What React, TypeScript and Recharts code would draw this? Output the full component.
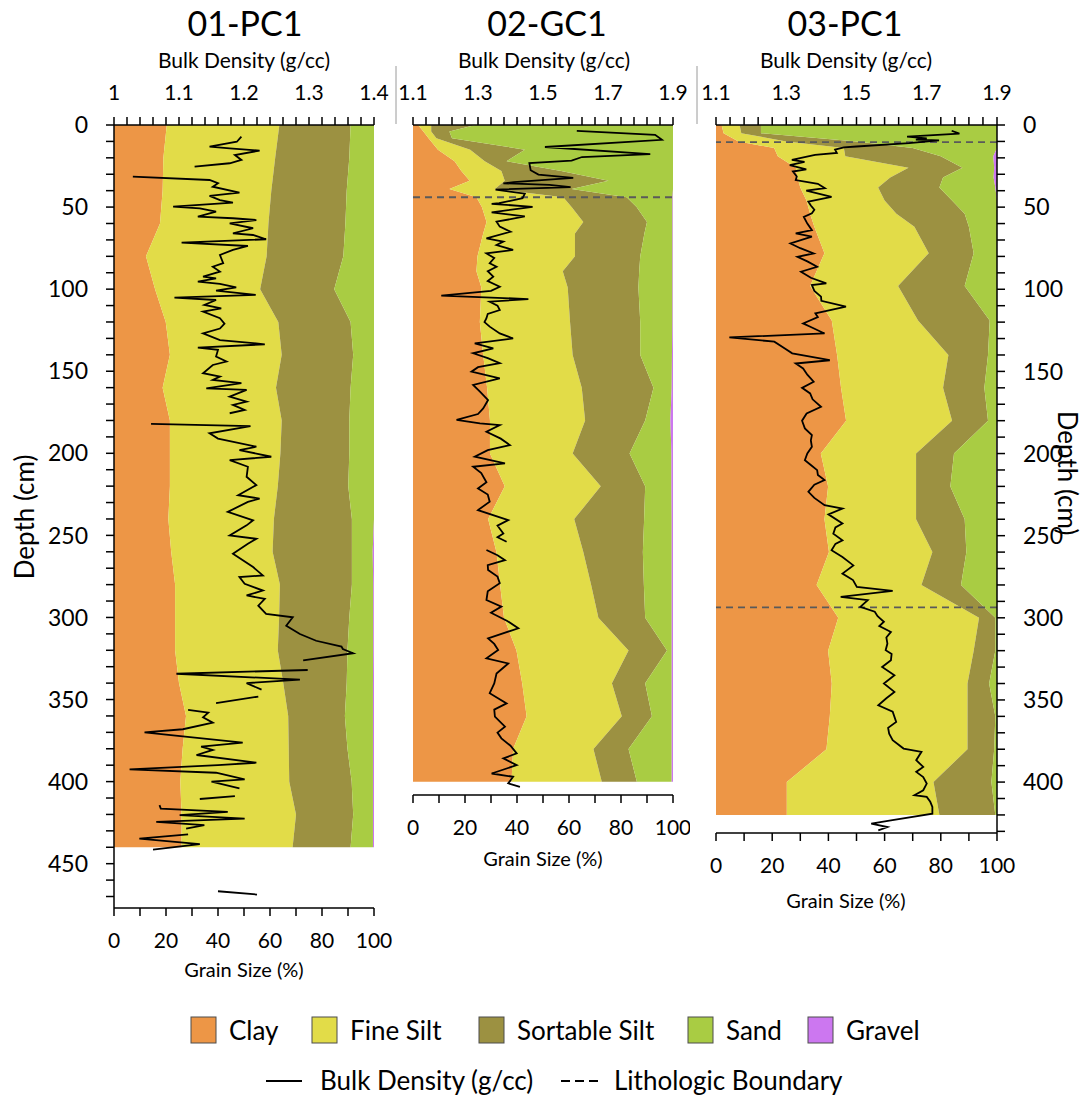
import React from 'react';
import { ComposedChart, Area, Line, XAxis, YAxis, ReferenceLine } from 'recharts';

// grain size layers, percent of each fraction at each sampled depth (cm)
const PC1_DEPTH = [0, 20, 40, 60, 80, 100, 120, 140, 160, 180, 200, 220, 240, 260, 280, 300, 320, 340, 360, 380, 400, 420, 440];
const PC1_CLAY = [20.3, 19, 18.7, 17.7, 12.3, 15.8, 19.9, 21.5, 18.7, 21.5, 21.5, 21.5, 20.9, 22, 23.5, 23.5, 23.5, 25, 27.7, 26.4, 25.5, 26, 26];
const PC1_FINE_SILT = [43.3, 43, 41.8, 41.7, 46.4, 40.4, 43.3, 43, 43.6, 43, 42.5, 41.5, 40.6, 39, 40.3, 40, 39.5, 40.1, 39.3, 40.8, 41.9, 44, 42.7];
const PC1_SORTABLE_SILT = [27.4, 28.5, 29, 29.6, 29.5, 28.5, 27.8, 27.5, 28.7, 26, 26.5, 27.1, 30, 30.5, 27.7, 27, 26.8, 24.4, 21.8, 22.6, 24, 22, 22.3];
const PC1_SAND = [9, 9.5, 10.5, 11, 11.8, 15.3, 9, 8, 9, 9.5, 9.5, 9.9, 8.5, 8, 8.2, 9.2, 9.9, 10.1, 10.8, 9.8, 8.2, 7.6, 8.6];
const PC1_GRAVEL = [0, 0, 0, 0, 0, 0, 0, 0, 0, 0, 0, 0, 0, 0.5, 0.3, 0.3, 0.3, 0.4, 0.4, 0.4, 0.4, 0.4, 0.4];

const GC1_DEPTH = [0, 4, 8, 15, 22, 28, 34, 39, 44, 50, 59, 66, 80, 89, 99, 120, 140, 160, 180, 200, 220, 240, 260, 280, 300, 320, 340, 360, 380, 400];
const GC1_CLAY = [2, 4, 6, 9.6, 16, 18.6, 21.8, 14, 24.4, 26.5, 28.3, 27, 24.8, 24.4, 26.3, 25.7, 27, 28.5, 29.6, 29.6, 35.3, 28.9, 32.1, 33.5, 35, 39.8, 42, 43.7, 38.5, 37.9];
const GC1_FINE_SILT = [5, 3, 3, 12.4, 11.6, 15.4, 13.5, 17.5, 33.4, 34.5, 37.2, 35.3, 37.5, 33.2, 33.2, 34.7, 34.4, 36.4, 36.6, 31.8, 36.9, 33.1, 33.4, 35, 36.3, 43.1, 34.5, 36.6, 30.9, 34.7];
const GC1_SORTABLE_SILT = [17, 7, 6, 21, 8.4, 23, 39.9, 29.5, 24.4, 25, 24.5, 26.7, 25.1, 29.4, 27.2, 27, 26, 27.6, 23.1, 21.9, 17.1, 26.9, 22.9, 20.3, 18, 14.8, 12.8, 11.6, 13.5, 13.5];
const GC1_SAND = [76, 86, 85, 57, 64, 43, 24.8, 39, 17.6, 13.8, 9.8, 10.8, 12.4, 12.8, 13.1, 12.4, 12.2, 7, 9.7, 16.1, 10.1, 10.6, 11.1, 10.7, 10.2, 1.8, 10.2, 7.6, 16.6, 13.4];
const GC1_GRAVEL = [0, 0, 0, 0, 0, 0, 0, 0, 0.2, 0.2, 0.2, 0.2, 0.2, 0.2, 0.2, 0.2, 0.4, 0.5, 1, 0.6, 0.6, 0.5, 0.5, 0.5, 0.5, 0.5, 0.5, 0.5, 0.5, 0.5];

const PC3_DEPTH = [0, 5, 10, 14, 19, 26, 32, 38, 46, 54, 62, 78, 98, 119, 140, 160, 180, 200, 220, 240, 260, 280, 300, 320, 340, 360, 380, 400, 420];
const PC3_CLAY = [2, 2.7, 8, 20.7, 22, 28.4, 29, 30, 32.2, 33.5, 35, 38.6, 33.5, 41.2, 43.1, 44.5, 46.3, 37.3, 39.9, 38.6, 40.2, 35.8, 43.5, 39.9, 41.2, 40.5, 39.3, 25.2, 25.2];
const PC3_FINE_SILT = [6.4, 6.3, 17, 24.8, 24, 40.1, 33, 27.7, 27.8, 30.7, 35.6, 37.1, 31.3, 30.7, 39.6, 36.3, 37.7, 33.9, 31.3, 32.6, 36.8, 37.3, 50.1, 51.8, 48.3, 49, 50.2, 52.2, 54.3];
const PC3_SORTABLE_SILT = [7.6, 7, 25, 24.5, 34, 19.2, 18.8, 21.8, 24, 24.3, 19.4, 16, 23.7, 25.5, 14.1, 14.7, 12.8, 13.5, 12.2, 17.3, 12.1, 14.1, 5.8, 7.7, 7.7, 9.9, 9.5, 20.6, 19.9];
const PC3_SAND = [84, 84, 50, 30, 18.7, 11.3, 18, 19.9, 16, 11.5, 10, 8.3, 11.5, 2.6, 3.2, 4.5, 3.2, 15.1, 16.4, 11.5, 10.9, 12.8, 0.6, 0.6, 2.8, 0.6, 1, 2, 0.6];
const PC3_GRAVEL = [0, 0, 0, 0, 1.3, 1, 1.2, 0.6, 0, 0, 0, 0, 0, 0, 0, 0, 0, 0.2, 0.2, 0, 0, 0, 0, 0, 0, 0, 0, 0, 0];

// bulk density (g/cc) by depth; null = no measurement (gap in line)
const PC1_BD: [number, number | null][] = [
  [7.1, 1.196], [10.2, 1.189], [13.2, 1.147], [14.2, 1.178], [15.6, 1.224], [18.3, 1.186], [21.3, 1.196], [23.3, 1.178], [25.4, 1.124], [28, null],
  [31.5, 1.029], [33.5, 1.147], [35.5, 1.16], [37.6, 1.152], [41.2, 1.193], [43.2, 1.147], [45.7, 1.163], [47.3, 1.183], [49.7, 1.091], [50.8, 1.132],
  [52.8, 1.157], [55.8, 1.129], [56.8, 1.183], [57.9, 1.219], [59.9, 1.178], [62.9, 1.214], [66, 1.183], [67, 1.214], [69.6, 1.234], [71.7, 1.104],
  [73.7, 1.206], [76.1, 1.183], [79.2, 1.163], [84.2, 1.168], [86.3, 1.152], [89.3, 1.163], [92.4, 1.137], [93.4, 1.157], [95.4, 1.129], [96.8, 1.163],
  [98.9, 1.188], [100.9, 1.157], [103.5, 1.218], [105.2, 1.093], [106.6, 1.157], [109.6, 1.139], [111.7, 1.165], [113.7, 1.137], [117.7, 1.163], [121, 1.17],
  [124, 1.163], [126.9, 1.137], [131, 1.163], [133.6, 1.232], [135.6, 1.129], [137, 1.16], [141.1, 1.157], [144.1, 1.173], [146.2, 1.152], [151.2, 1.137],
  [153.3, 1.163], [155.3, 1.152], [157.3, 1.196], [160.4, 1.142], [161.4, 1.204], [165.5, 1.178], [168.5, 1.204], [170.5, 1.183], [173.6, 1.201], [175.6, 1.178],
  [179, null], [182.1, 1.057], [183.5, 1.21], [187.8, 1.147], [191, 1.16], [196, 1.219], [198, 1.193], [202.1, 1.242], [204.2, 1.178], [208.2, 1.206],
  [214.3, 1.204], [219.4, 1.219], [225.5, 1.191], [227.6, 1.224], [229.6, 1.206], [235.7, 1.175], [240.8, 1.214], [243.9, 1.204], [250, 1.178], [252.1, 1.219],
  [255.1, 1.206], [261.2, 1.183], [269.3, 1.214], [274.4, 1.229], [275.4, 1.193], [279.5, 1.201], [283.6, 1.229], [286.6, 1.204], [288.7, 1.232], [292.8, 1.222],
  [297.8, 1.234], [299.9, 1.275], [305, 1.265], [310.1, 1.286], [314.2, 1.311], [317.7, 1.35], [319.2, 1.352], [321.8, 1.368], [326.2, 1.291], [329, null],
  [332, 1.298], [334.3, 1.096], [337.9, 1.286], [340, 1.204], [344, 1.227], [346, null], [348.2, 1.222], [352.2, 1.157], [354, null],
  [356.3, 1.114], [358, 1.145], [360.8, 1.137], [364.1, 1.152], [368.1, 1.106], [370, 1.047], [376.3, 1.198], [378.7, 1.134], [380.7, 1.152], [383.8, 1.127],
  [388.5, 1.219], [389.9, 1.16], [392.5, 1.024], [394.6, 1.157], [398.6, 1.201], [400, 1.15], [404.1, 1.193], [406, null], [408.8, 1.186], [410.6, 1.132], [412, null],
  [414.3, 1.07], [416.4, 1.072], [418.4, 1.175], [420.4, 1.101], [422.5, 1.201], [424.5, 1.065], [426.5, 1.139], [428.6, 1.111], [430, null],
  [432.2, 1.114], [434.7, 1.039], [438.1, 1.132], [441.4, 1.06], [450, null], [466.8, 1.16], [468.8, 1.22],
];

const GC1_BD: [number, number | null][] = [
  [3.6, 1.604], [6, 1.845], [9, 1.866], [13.4, 1.506], [17.7, 1.83], [19.5, 1.62], [21.7, 1.588], [23.2, 1.458], [27.5, 1.462], [30.2, 1.486],
  [32.2, 1.593], [34.8, 1.41], [35.5, 1.378], [36.5, 1.52], [37.8, 1.585], [39.3, 1.354], [41.8, 1.444], [44.6, 1.437], [47.6, 1.365], [48, 1.342],
  [49.8, 1.468], [53.2, 1.342], [55.7, 1.444], [58.9, 1.357], [61.9, 1.367], [65, 1.4], [69, 1.326], [71, 1.378], [73.1, 1.357], [76.1, 1.408],
  [78.2, 1.326], [81, 1.35], [84.2, 1.336], [86.3, 1.357], [89, 1.33], [92.4, 1.347], [95, 1.33], [98.5, 1.367], [101, 1.34], [103.9, 1.187],
  [106, 1.455], [107.6, 1.336], [110, 1.36], [112.7, 1.367], [115, 1.33], [117.7, 1.326], [120, 1.32], [122.8, 1.336], [126.9, 1.367], [130, 1.408],
  [133, 1.29], [136, 1.347], [139, 1.285], [142, 1.33], [145, 1.367], [147.5, 1.3], [150.2, 1.28], [154.3, 1.367], [158.3, 1.285], [162.4, 1.306],
  [167.5, 1.331], [172.6, 1.316], [176, 1.3], [179.6, 1.234], [181.7, 1.306], [182.7, 1.367], [186.8, 1.326], [191, 1.37], [194.9, 1.398], [198, 1.33],
  [202, 1.29], [206, 1.383], [208.1, 1.285], [212, 1.31], [217.6, 1.326], [221.3, 1.3], [225, 1.33], [229.4, 1.336], [234.5, 1.3], [240.6, 1.393],
  [244, 1.36], [248.8, 1.378], [251, 1.36], [253.8, 1.388], [256, null], [258.8, 1.326], [262, 1.36], [265, 1.383], [268, 1.33], [271, 1.331],
  [275, 1.36], [279, 1.367], [284, 1.33], [289.3, 1.326], [293.3, 1.372], [297, 1.34], [302, 1.39], [306.5, 1.424], [312.6, 1.331], [316, 1.35],
  [319.7, 1.362], [324.8, 1.326], [327.9, 1.393], [334, 1.357], [340, 1.35], [346, 1.336], [352.2, 1.388], [356, 1.35], [360.3, 1.352], [366.4, 1.383],
  [370, 1.36], [373.5, 1.372], [378, 1.4], [382.7, 1.419], [385.7, 1.378], [389.8, 1.419], [394.9, 1.342], [396.9, 1.408], [400.9, 1.393], [403, 1.429],
];

const PC3_BD: [number, number | null][] = [
  [3.5, 1.771], [5.2, 1.793], [7.1, 1.644], [8.2, 1.7], [8.9, 1.669], [9.4, 1.735], [11, 1.65], [13.1, 1.5], [13.6, 1.464], [15, 1.439],
  [17, 1.444], [18.2, 1.382], [21.2, 1.316], [22.5, 1.352], [24.5, 1.31], [27, 1.357], [28.3, 1.319], [31.3, 1.33], [33.5, 1.327], [35.8, 1.39],
  [38.5, 1.41], [40, 1.357], [43.8, 1.429], [46.7, 1.363], [49, 1.37], [51.6, 1.38], [53.8, 1.373], [56, 1.35], [60, 1.36], [64, 1.373],
  [66, 1.327], [68, 1.373], [72.1, 1.312], [75, 1.34], [78.2, 1.378], [80.2, 1.332], [83, 1.36], [86.3, 1.388], [89.3, 1.342], [93, 1.37],
  [96.4, 1.414], [97.4, 1.373], [101, 1.38], [104.5, 1.399], [107, 1.4], [110.6, 1.47], [114.7, 1.383], [117, 1.39], [120.8, 1.348], [123, 1.37],
  [126.9, 1.409], [129.3, 1.138], [131.9, 1.266], [136, 1.296], [139, 1.317], [143.2, 1.424], [145.2, 1.327], [148.2, 1.348], [152, 1.36], [156.3, 1.378],
  [160, 1.345], [163.4, 1.368], [167, 1.375], [171.5, 1.399], [175.6, 1.358], [180, 1.345], [184.7, 1.353], [188.8, 1.373], [192, 1.37], [195.9, 1.373],
  [200, 1.36], [204, 1.353], [207, 1.37], [210.1, 1.388], [213, 1.39], [216.2, 1.409], [219, 1.38], [223.3, 1.363], [227, 1.38], [231.4, 1.409],
  [233.5, 1.46], [237, 1.42], [242.6, 1.46], [245, 1.44], [248.8, 1.434], [252.8, 1.46], [255, 1.44], [258.9, 1.429], [263, 1.46], [268.1, 1.491],
  [273.1, 1.46], [277, 1.49], [281.2, 1.501], [283.6, 1.603], [287.3, 1.455], [289.3, 1.532], [293.3, 1.511], [296.3, 1.552], [299, 1.56], [302.4, 1.578],
  [305, 1.565], [308.6, 1.598], [312, 1.585], [315.7, 1.588], [319.7, 1.583], [322, 1.6], [325.8, 1.598], [329.9, 1.573], [335, 1.608], [340, 1.578],
  [345.1, 1.608], [349, 1.585], [353.2, 1.562], [357.2, 1.603], [363.4, 1.613], [367, 1.59], [370.5, 1.593], [374.5, 1.603], [379.6, 1.634], [381.6, 1.685],
  [386.7, 1.67], [390.8, 1.69], [393.8, 1.67], [397, 1.69], [400.9, 1.7], [405, 1.69], [408, 1.665], [409, 1.7], [412, 1.71], [415.1, 1.716],
  [419.2, 1.716], [423.3, 1.598], [425.3, 1.542], [427.4, 1.588], [429.4, 1.562],
];

// lithologic boundaries (cm)
const GC1_BOUNDARIES = [44];
const PC3_BOUNDARIES = [10.4, 293.7];

const GRAIN_TICKS = [0, 10, 20, 30, 40, 50, 60, 70, 80, 90, 100];
const GRAIN_LABELS = [0, 20, 40, 60, 80, 100];
const PC1_BD_LABELS = [1, 1.1, 1.2, 1.3, 1.4];
const BD_LABELS = [1.1, 1.3, 1.5, 1.7, 1.9];

const COLORS = {
  clay: '#ED9646',
  fineSilt: '#E2DC48',
  sortableSilt: '#9C9141',
  sand: '#A9CC43',
  gravel: '#CC77F0',
};

const FONT = 'Lato, "Open Sans", sans-serif';

const makeRows = (depth: number[], clay: number[], fineSilt: number[], sortableSilt: number[], sand: number[], gravel: number[]) =>
  depth.map((d, i) => ({ depth: d, clay: clay[i], fineSilt: fineSilt[i], sortableSilt: sortableSilt[i], sand: sand[i], gravel: gravel[i] }));

// break the bulk density record into continuous runs at the missing values
const splitRuns = (bd: [number, number | null][]) => {
  const runs: { depth: number; bd: number }[][] = [];
  let cur: { depth: number; bd: number }[] = [];
  bd.forEach(([depth, v]) => {
    if (v == null) {
      if (cur.length) runs.push(cur);
      cur = [];
    } else {
      cur.push({ depth, bd: v });
    }
  });
  if (cur.length) runs.push(cur);
  return runs;
};

const steps = (start: number, end: number, step: number) => {
  const n = Math.round((end - start) / step);
  return Array.from({ length: n + 1 }, (_, i) => +(start + i * step).toFixed(3));
};

const hasLabel = (labels: number[], v: number) => labels.some((l) => Math.abs(l - v) < 1e-6);

const axisStroke = { stroke: '#000', strokeWidth: 1.5 };

interface PanelProps {
  left: number;
  width: number;
  height: number;
  margin: { top: number; right: number; bottom: number; left: number };
  rows: ReturnType<typeof makeRows>;
  bd: [number, number | null][];
  maxDepth: number;
  bdLabels: number[];
  bdStep: number;
  depthAxis: 'left' | 'right' | 'none';
  boundaries: number[];
}

const CorePanel: React.FC<PanelProps> = ({ left, width, height, margin, rows, bd, maxDepth, bdLabels, bdStep, depthAxis, boundaries }) => {
  const runs = splitRuns(bd);
  const bdMin = bdLabels[0];
  const bdMax = bdLabels[bdLabels.length - 1];
  return (
    <div style={{ position: 'absolute', left, top: 0 }}>
      <ComposedChart layout="vertical" width={width} height={height} data={rows} margin={margin}>
        <XAxis
          xAxisId="gs"
          type="number"
          orientation="bottom"
          domain={[0, 100]}
          ticks={GRAIN_TICKS}
          interval={0}
          tickFormatter={(v) => (hasLabel(GRAIN_LABELS, v) ? String(v) : '')}
          height={50}
          tickSize={8}
          tickMargin={17}
          axisLine={axisStroke}
          tickLine={axisStroke}
          tick={{ fontSize: 21, fill: '#000' }}
          allowDataOverflow
        />
        <XAxis
          xAxisId="bd"
          type="number"
          orientation="top"
          domain={[bdMin, bdMax]}
          ticks={steps(bdMin, bdMax, bdStep)}
          interval={0}
          tickFormatter={(v) => (hasLabel(bdLabels, v) ? String(v) : '')}
          height={40}
          tickSize={8}
          tickMargin={17}
          axisLine={axisStroke}
          tickLine={axisStroke}
          tick={{ fontSize: 21, fill: '#000' }}
          allowDataOverflow
        />
        <YAxis
          yAxisId="d"
          type="number"
          dataKey="depth"
          domain={[0, maxDepth]}
          ticks={steps(0, Math.floor(maxDepth / 10) * 10, 10)}
          interval={0}
          tickFormatter={(v) => (v % 50 === 0 ? String(v) : '')}
          orientation={depthAxis === 'right' ? 'right' : 'left'}
          hide={depthAxis === 'none'}
          width={60}
          tickSize={8}
          tickMargin={18}
          axisLine={axisStroke}
          tickLine={axisStroke}
          tick={{ fontSize: 23, fill: '#000' }}
          allowDataOverflow
        />
        <Area xAxisId="gs" yAxisId="d" dataKey="clay" stackId="g" type="linear" fill={COLORS.clay} fillOpacity={1} stroke="none" isAnimationActive={false} />
        <Area xAxisId="gs" yAxisId="d" dataKey="fineSilt" stackId="g" type="linear" fill={COLORS.fineSilt} fillOpacity={1} stroke="none" isAnimationActive={false} />
        <Area xAxisId="gs" yAxisId="d" dataKey="sortableSilt" stackId="g" type="linear" fill={COLORS.sortableSilt} fillOpacity={1} stroke="none" isAnimationActive={false} />
        <Area xAxisId="gs" yAxisId="d" dataKey="sand" stackId="g" type="linear" fill={COLORS.sand} fillOpacity={1} stroke="none" isAnimationActive={false} />
        <Area xAxisId="gs" yAxisId="d" dataKey="gravel" stackId="g" type="linear" fill={COLORS.gravel} fillOpacity={1} stroke="none" isAnimationActive={false} />
        {boundaries.map((b) => (
          <ReferenceLine key={b} xAxisId="gs" yAxisId="d" y={b} stroke="#5a5a5a" strokeWidth={1.8} strokeDasharray="7 5" />
        ))}
        {runs.map((run, i) => (
          <Line
            key={i}
            xAxisId="bd"
            yAxisId="d"
            data={run}
            dataKey="bd"
            type="linear"
            stroke="#000"
            strokeWidth={1.8}
            dot={false}
            activeDot={false}
            isAnimationActive={false}
          />
        ))}
      </ComposedChart>
    </div>
  );
};

const LEGEND_AREAS = [
  { name: 'Clay', color: COLORS.clay, x: 191 },
  { name: 'Fine Silt', color: COLORS.fineSilt, x: 312 },
  { name: 'Sortable Silt', color: COLORS.sortableSilt, x: 479 },
  { name: 'Sand', color: COLORS.sand, x: 688 },
  { name: 'Gravel', color: COLORS.gravel, x: 808 },
];

const Overlay = () => (
  <svg width={1086} height={1097} style={{ position: 'absolute', left: 0, top: 0, pointerEvents: 'none' }} fontFamily={FONT}>
    {/* core titles */}
    <text x={245} y={36} fontSize={34} textAnchor="middle">01-PC1</text>
    <text x={547} y={36} fontSize={34} textAnchor="middle">02-GC1</text>
    <text x={845} y={36} fontSize={34} textAnchor="middle">03-PC1</text>
    {/* bulk density axis titles */}
    <text x={244} y={68} fontSize={21} textAnchor="middle">Bulk Density (g/cc)</text>
    <text x={544} y={68} fontSize={21} textAnchor="middle">Bulk Density (g/cc)</text>
    <text x={846} y={68} fontSize={21} textAnchor="middle">Bulk Density (g/cc)</text>
    {/* separators */}
    <line x1={396} x2={396} y1={66} y2={124} stroke="#9a9a9a" strokeWidth={1} />
    <line x1={697} x2={697} y1={66} y2={124} stroke="#9a9a9a" strokeWidth={1} />
    {/* grain size titles */}
    <text x={244} y={977} fontSize={20} textAnchor="middle">Grain Size (%)</text>
    <text x={543} y={866} fontSize={20} textAnchor="middle">Grain Size (%)</text>
    <text x={846} y={908} fontSize={20} textAnchor="middle">Grain Size (%)</text>
    {/* depth titles */}
    <text x={0} y={0} fontSize={26} textAnchor="middle" transform="translate(34 517) rotate(-90)">Depth (cm)</text>
    <text x={0} y={0} fontSize={26} textAnchor="middle" transform="translate(1058 473) rotate(90)">Depth (cm)</text>
    {/* legend */}
    {LEGEND_AREAS.map((item) => (
      <g key={item.name}>
        <rect x={item.x} y={1017} width={25} height={26} fill={item.color} stroke="#4d4d4d" strokeWidth={1} />
        <text x={item.x + 38} y={1040} fontSize={26}>{item.name}</text>
      </g>
    ))}
    <line x1={266} x2={302} y1={1081} y2={1081} stroke="#000" strokeWidth={2} />
    <text x={320} y={1090} fontSize={26}>Bulk Density (g/cc)</text>
    <line x1={561} x2={598} y1={1081} y2={1081} stroke="#000" strokeWidth={2} strokeDasharray="9 5" />
    <text x={614} y={1090} fontSize={26}>Lithologic Boundary</text>
  </svg>
);

const App: React.FC = () => {
  const pc1Rows = makeRows(PC1_DEPTH, PC1_CLAY, PC1_FINE_SILT, PC1_SORTABLE_SILT, PC1_SAND, PC1_GRAVEL);
  const gc1Rows = makeRows(GC1_DEPTH, GC1_CLAY, GC1_FINE_SILT, GC1_SORTABLE_SILT, GC1_SAND, GC1_GRAVEL);
  const pc3Rows = makeRows(PC3_DEPTH, PC3_CLAY, PC3_FINE_SILT, PC3_SORTABLE_SILT, PC3_SAND, PC3_GRAVEL);
  return (
    <div style={{ position: 'absolute', left: 0, top: 0, width: 1086, height: 1097, background: '#fff', fontFamily: FONT }}>
      <CorePanel
        left={0}
        width={400}
        height={1000}
        margin={{ top: 85, right: 26, bottom: 42, left: 54 }}
        rows={pc1Rows}
        bd={PC1_BD}
        maxDepth={477}
        bdLabels={PC1_BD_LABELS}
        bdStep={0.02}
        depthAxis="left"
        boundaries={[]}
      />
      <CorePanel
        left={390}
        width={300}
        height={880}
        margin={{ top: 85, right: 17, bottom: 35, left: 23 }}
        rows={gc1Rows}
        bd={GC1_BD}
        maxDepth={408}
        bdLabels={BD_LABELS}
        bdStep={0.04}
        depthAxis="none"
        boundaries={GC1_BOUNDARIES}
      />
      <CorePanel
        left={700}
        width={386}
        height={920}
        margin={{ top: 85, right: 29, bottom: 37, left: 16 }}
        rows={pc3Rows}
        bd={PC3_BD}
        maxDepth={431}
        bdLabels={BD_LABELS}
        bdStep={0.04}
        depthAxis="right"
        boundaries={PC3_BOUNDARIES}
      />
      <Overlay />
    </div>
  );
};

export default App;
